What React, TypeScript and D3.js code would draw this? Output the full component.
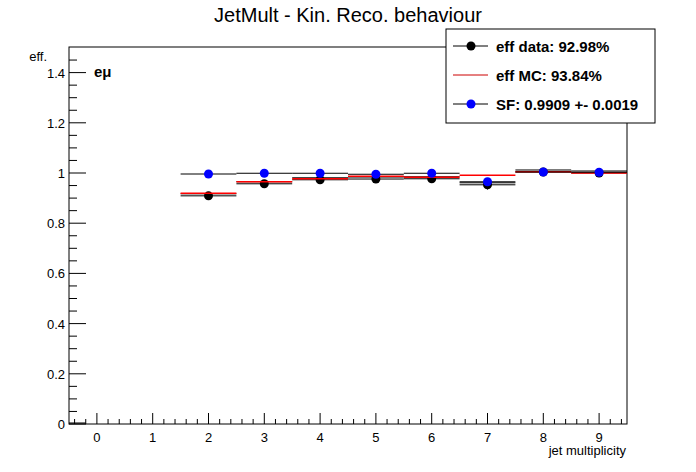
import * as d3 from "d3";

const bins = [2, 3, 4, 5, 6, 7, 8, 9];
const effData = [0.909, 0.957, 0.973, 0.976, 0.977, 0.953, 1.004, 1.0];
const effDataErr = [0.004, 0.004, 0.004, 0.004, 0.004, 0.019, 0.002, 0.001];
const effMC = [0.919, 0.965, 0.977, 0.987, 0.983, 0.991, 1.005, 1.0];
const sf = [0.996, 0.999, 0.999, 0.995, 0.999, 0.965, 1.004, 1.003];
const yTicks = [0, 0.2, 0.4, 0.6, 0.8, 1, 1.2, 1.4];
const xTicks = [0, 1, 2, 3, 4, 5, 6, 7, 8, 9];
const legendItems = ["eff data: 92.98%", "eff MC: 93.84%", "SF: 0.9909 +- 0.0019"];

const L = 69, R = 627, T = 47, B = 424;
const font = "Liberation Sans, Arial, sans-serif";

export default function App() {
  const x = d3.scaleLinear().domain([-0.5, 9.5]).range([L, R]);
  const y = d3.scaleLinear().domain([0, 1.5]).range([B, T + 0.5]);
  const xMinor = d3.range(-0.4, 9.5, 0.2).filter((v) => Math.abs(v - Math.round(v)) > 0.01);
  const yMinor = d3.range(0, 1.5, 0.05).filter((v) => Math.abs(v / 0.2 - Math.round(v / 0.2)) > 0.01);

  return (
    <svg width={696} height={472} style={{ position: "absolute", left: 0, top: 0, fontFamily: font }}>
      <rect width={696} height={472} fill="white" />
      <text x={348} y={22} textAnchor="middle" fontSize={20}>JetMult - Kin. Reco. behaviour</text>
      <rect x={L} y={T} width={R - L} height={B - T} fill="none" stroke="black" />
      {xTicks.map((t) => (
        <g key={t}>
          <line x1={x(t)} x2={x(t)} y1={B} y2={B - 11} stroke="black" />
          <text x={x(t)} y={B + 18} textAnchor="middle" fontSize={13}>{t}</text>
        </g>
      ))}
      {xMinor.map((t, i) => (
        <line key={i} x1={x(t)} x2={x(t)} y1={B} y2={B - 5} stroke="black" />
      ))}
      {yTicks.map((t) => (
        <g key={t}>
          <line x1={L} x2={L + 17} y1={y(t)} y2={y(t)} stroke="black" />
          <text x={L - 4} y={y(t) + 5} textAnchor="end" fontSize={13}>{t}</text>
        </g>
      ))}
      {yMinor.map((t, i) => (
        <line key={i} x1={L} x2={L + 8} y1={y(t)} y2={y(t)} stroke="black" />
      ))}
      <text x={626} y={455} textAnchor="end" fontSize={13}>jet multiplicity</text>
      <text x={47} y={61} textAnchor="end" fontSize={13}>eff.</text>
      <text x={94} y={77} fontSize={15} fontWeight="bold">eμ</text>
      <line x1={L} x2={x(-0.2)} y1={y(0.004)} y2={y(0.004)} stroke="black" />
      {bins.map((b, i) => (
        <g key={b}>
          <line x1={x(b - 0.5)} x2={x(b + 0.5)} y1={y(effData[i])} y2={y(effData[i])} stroke="black" />
          <line x1={x(b)} x2={x(b)} y1={y(effData[i] - effDataErr[i])} y2={y(effData[i] + effDataErr[i])} stroke="black" />
          <line x1={x(b - 0.5)} x2={x(b + 0.5)} y1={y(effData[i]) - 2} y2={y(effData[i]) - 2} stroke="black" />
          <circle cx={x(b)} cy={y(effData[i])} r={4.5} fill="black" />
          <line x1={x(b - 0.5)} x2={x(b + 0.5)} y1={y(effMC[i])} y2={y(effMC[i])} stroke="red" strokeWidth={1.5} />
          <line x1={x(b - 0.5)} x2={x(b + 0.5)} y1={y(sf[i])} y2={y(sf[i])} stroke="black" />
          <circle cx={x(b)} cy={y(sf[i])} r={4.5} fill="blue" />
        </g>
      ))}
      <g>
        <rect x={446} y={29} width={209} height={94} fill="white" stroke="black" />
        {legendItems.map((s, i) => {
          const ly = 46 + i * 29;
          return (
            <g key={s}>
              <line x1={453} x2={488} y1={ly} y2={ly} stroke={i === 1 ? "#c00" : "black"} />
              {i !== 1 && <circle cx={471} cy={ly} r={4.5} fill={i === 0 ? "black" : "blue"} />}
              <text x={496} y={ly + 6} fontSize={15} fontWeight="bold">{s}</text>
            </g>
          );
        })}
      </g>
    </svg>
  );
}
